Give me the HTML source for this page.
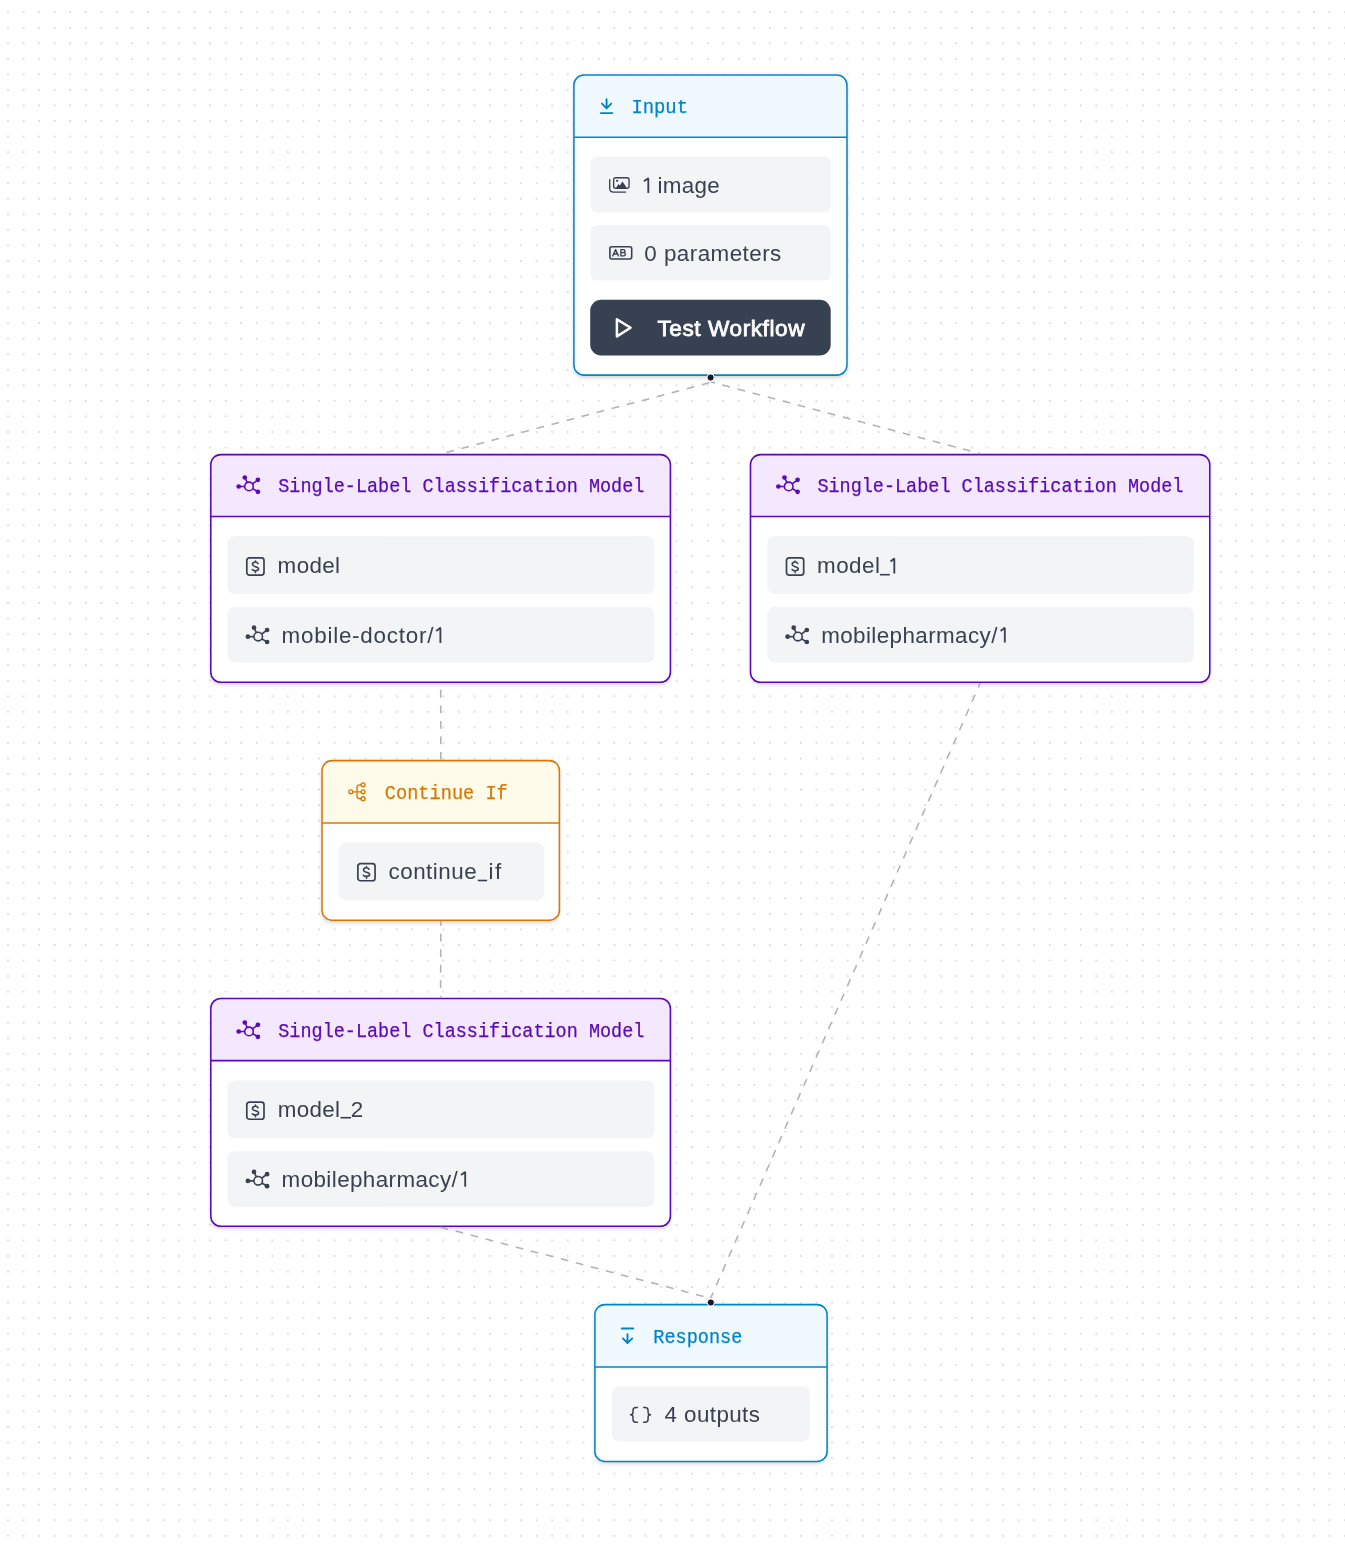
<!DOCTYPE html><html><head><meta charset="utf-8"><style>html,body{margin:0;padding:0;background:#fff;overflow:hidden;width:1345px;height:1545px;position:relative}svg{display:block;position:absolute;left:0;top:0;will-change:transform}.sh{position:absolute;background:#fff;border-radius:10px;box-shadow:0 3px 5px -1px rgba(0,0,0,.10), 0 1.5px 4px -1px rgba(0,0,0,.10), 0 0 3px rgba(0,0,0,.04)}</style></head><body>
<svg width="1345" height="1545" viewBox="0 0 1345 1545">
<defs><pattern id="dots" patternUnits="userSpaceOnUse" x="0.256" y="4.426" width="15.547" height="15.547"><circle cx="7.774" cy="7.774" r="0.95" fill="#d4d4d8"/></pattern></defs>
<rect width="1345" height="1545" fill="#fff"/><rect width="1345" height="1545" fill="url(#dots)"/></svg>
<div class="sh" style="left:573.12px;top:74.22px;width:274.65px;height:301.65px"></div>
<div class="sh" style="left:210.03px;top:453.83px;width:461.15px;height:229.25px"></div>
<div class="sh" style="left:749.73px;top:453.83px;width:460.85px;height:229.25px"></div>
<div class="sh" style="left:321.23px;top:759.83px;width:238.95px;height:161.15px"></div>
<div class="sh" style="left:210.03px;top:997.62px;width:461.15px;height:229.45px"></div>
<div class="sh" style="left:594.12px;top:1303.82px;width:233.75px;height:158.45px"></div>
<svg width="1345" height="1545" viewBox="0 0 1345 1545">
<rect x="573.9" y="75.0" width="273.10" height="300.10" rx="10" fill="#fff"/>
<path d="M573.9,137.3 V85.0 A10,10 0 0 1 583.9,75.0 H837.0 A10,10 0 0 1 847.0,85.0 V137.3 Z" fill="#f0f9ff"/>
<line x1="573.9" y1="137.3" x2="847.0" y2="137.3" stroke="#0284c7" stroke-width="1.55"/>
<rect x="573.9" y="75.0" width="273.10" height="300.10" rx="10" fill="none" stroke="#0284c7" stroke-width="1.55"/>
<rect x="210.8" y="454.6" width="459.60" height="227.70" rx="10" fill="#fff"/>
<path d="M210.8,516.4 V464.6 A10,10 0 0 1 220.8,454.6 H660.4 A10,10 0 0 1 670.4,464.6 V516.4 Z" fill="#f3e8ff"/>
<line x1="210.8" y1="516.4" x2="670.4" y2="516.4" stroke="#5a08b8" stroke-width="1.55"/>
<rect x="210.8" y="454.6" width="459.60" height="227.70" rx="10" fill="none" stroke="#5a08b8" stroke-width="1.55"/>
<rect x="750.5" y="454.6" width="459.30" height="227.70" rx="10" fill="#fff"/>
<path d="M750.5,516.4 V464.6 A10,10 0 0 1 760.5,454.6 H1199.8 A10,10 0 0 1 1209.8,464.6 V516.4 Z" fill="#f3e8ff"/>
<line x1="750.5" y1="516.4" x2="1209.8" y2="516.4" stroke="#5a08b8" stroke-width="1.55"/>
<rect x="750.5" y="454.6" width="459.30" height="227.70" rx="10" fill="none" stroke="#5a08b8" stroke-width="1.55"/>
<rect x="322.0" y="760.6" width="237.40" height="159.60" rx="10" fill="#fff"/>
<path d="M322.0,823.0 V770.6 A10,10 0 0 1 332.0,760.6 H549.4 A10,10 0 0 1 559.4,770.6 V823.0 Z" fill="#fffbeb"/>
<line x1="322.0" y1="823.0" x2="559.4" y2="823.0" stroke="#d97706" stroke-width="1.55"/>
<rect x="322.0" y="760.6" width="237.40" height="159.60" rx="10" fill="none" stroke="#d97706" stroke-width="1.55"/>
<rect x="210.8" y="998.4" width="459.60" height="227.90" rx="10" fill="#fff"/>
<path d="M210.8,1060.6 V1008.4 A10,10 0 0 1 220.8,998.4 H660.4 A10,10 0 0 1 670.4,1008.4 V1060.6 Z" fill="#f3e8ff"/>
<line x1="210.8" y1="1060.6" x2="670.4" y2="1060.6" stroke="#5a08b8" stroke-width="1.55"/>
<rect x="210.8" y="998.4" width="459.60" height="227.90" rx="10" fill="none" stroke="#5a08b8" stroke-width="1.55"/>
<rect x="594.9" y="1304.6" width="232.20" height="156.90" rx="10" fill="#fff"/>
<path d="M594.9,1367.0 V1314.6 A10,10 0 0 1 604.9,1304.6 H817.1 A10,10 0 0 1 827.1,1314.6 V1367.0 Z" fill="#f0f9ff"/>
<line x1="594.9" y1="1367.0" x2="827.1" y2="1367.0" stroke="#0284c7" stroke-width="1.55"/>
<rect x="594.9" y="1304.6" width="232.20" height="156.90" rx="10" fill="none" stroke="#0284c7" stroke-width="1.55"/>
<rect x="590.4" y="156.5" width="240.60" height="55.90" rx="7" fill="#f3f4f6"/>
<rect x="590.4" y="225.1" width="240.60" height="55.40" rx="7" fill="#f3f4f6"/>
<rect x="590.2" y="299.7" width="240.50" height="55.70" rx="11" fill="#374151"/>
<rect x="227.6" y="536.2" width="426.60" height="57.90" rx="7" fill="#f3f4f6"/>
<rect x="227.6" y="607.1" width="426.60" height="55.50" rx="7" fill="#f3f4f6"/>
<rect x="767.3000000000001" y="536.2" width="426.60" height="57.90" rx="7" fill="#f3f4f6"/>
<rect x="767.3000000000001" y="607.1" width="426.60" height="55.50" rx="7" fill="#f3f4f6"/>
<rect x="227.6" y="1080.4" width="426.60" height="57.90" rx="7" fill="#f3f4f6"/>
<rect x="227.6" y="1151.3000000000002" width="426.60" height="55.50" rx="7" fill="#f3f4f6"/>
<rect x="339.0" y="842.4" width="204.90" height="58.00" rx="7" fill="#f3f4f6"/>
<rect x="611.9" y="1386.4" width="198.10" height="55.10" rx="7" fill="#f3f4f6"/>
<g stroke="#b1b1b7" stroke-width="1.55" stroke-dasharray="7.77 7.77" fill="none">
<line x1="710.45" y1="382.4" x2="440.4" y2="454.0" stroke-dashoffset="-1.2"/>
<line x1="710.45" y1="381.8" x2="980.15" y2="453.5" stroke-dashoffset="3.0"/>
<line x1="440.8" y1="759.8" x2="440.7" y2="683.2"/>
<line x1="440.8" y1="920.9" x2="440.6" y2="997.6" stroke-dashoffset="2.8"/>
<line x1="440.4" y1="1227.1" x2="710.6" y2="1298.3" stroke-dashoffset="-0.2"/>
<line x1="980.15" y1="683.1" x2="710.6" y2="1298.3" stroke-dashoffset="2.95"/>
</g>
<circle cx="710.6" cy="377.5" r="3.6" fill="#1a192b" stroke="#fff" stroke-width="1"/>
<circle cx="710.8" cy="1302.5" r="3.6" fill="#1a192b" stroke="#fff" stroke-width="1"/>
<text x="631.41" y="112.8" font-family="Liberation Mono" font-size="20" fill="#0284c7" stroke="#0284c7" stroke-width="0.25" textLength="56.58" lengthAdjust="spacingAndGlyphs">Input</text>
<text x="644.35" y="260.9" font-family="Liberation Sans" font-size="22.4" font-weight="normal" fill="#374151" textLength="136.97" lengthAdjust="spacing">0 parameters</text>
<text x="657.5" y="335.6" font-family="Liberation Sans" font-size="22.6" font-weight="normal" fill="#fff" textLength="147.0" lengthAdjust="spacing" stroke="#fff" stroke-width="0.8">Test Workflow</text>
<text x="278.28" y="491.7" font-family="Liberation Mono" font-size="20" fill="#5a08b8" stroke="#5a08b8" stroke-width="0.25" textLength="366.10" lengthAdjust="spacingAndGlyphs">Single-Label Classification Model</text>
<text x="817.38" y="491.7" font-family="Liberation Mono" font-size="20" fill="#5a08b8" stroke="#5a08b8" stroke-width="0.25" textLength="366.10" lengthAdjust="spacingAndGlyphs">Single-Label Classification Model</text>
<text x="278.28" y="1036.7" font-family="Liberation Mono" font-size="20" fill="#5a08b8" stroke="#5a08b8" stroke-width="0.25" textLength="366.10" lengthAdjust="spacingAndGlyphs">Single-Label Classification Model</text>
<text x="277.6" y="573.2" font-family="Liberation Sans" font-size="22.4" font-weight="normal" fill="#374151" textLength="62.48" lengthAdjust="spacing">model</text>
<text x="657.5" y="193.0" font-family="Liberation Sans" font-size="22.4" font-weight="normal" fill="#374151" textLength="62.18" lengthAdjust="spacing">image</text>
<text x="281.6" y="642.9" font-family="Liberation Sans" font-size="22.4" font-weight="normal" fill="#374151" textLength="151.77" lengthAdjust="spacing">mobile-doctor/</text>
<text x="821.2" y="642.6" font-family="Liberation Sans" font-size="22.4" font-weight="normal" fill="#374151" textLength="176.19" lengthAdjust="spacing">mobilepharmacy/</text>
<text x="281.6" y="1186.8" font-family="Liberation Sans" font-size="22.4" font-weight="normal" fill="#374151" textLength="176.19" lengthAdjust="spacing">mobilepharmacy/</text>
<text x="817.0" y="573.4" font-family="Liberation Sans" font-size="22.4" font-weight="normal" fill="#374151" textLength="62.88" lengthAdjust="spacing">model</text>
<text x="277.8" y="1117.0" font-family="Liberation Sans" font-size="22.4" font-weight="normal" fill="#374151" textLength="62.28" lengthAdjust="spacing">model</text>
<text x="350.8" y="1117.0" font-family="Liberation Sans" font-size="22.4" font-weight="normal" fill="#374151" textLength="11.85" lengthAdjust="spacing">2</text>
<text x="388.5" y="878.9" font-family="Liberation Sans" font-size="22.4" font-weight="normal" fill="#374151" textLength="88.15" lengthAdjust="spacing">continue</text>
<text x="488.4" y="878.9" font-family="Liberation Sans" font-size="22.4" font-weight="normal" fill="#374151" textLength="12.8" lengthAdjust="spacing">if</text>
<text x="384.87" y="799.1" font-family="Liberation Mono" font-size="20" fill="#d97706" stroke="#d97706" stroke-width="0.25" textLength="122.88" lengthAdjust="spacingAndGlyphs">Continue If</text>
<text x="653.27" y="1343.3" font-family="Liberation Mono" font-size="20" fill="#0284c7" stroke="#0284c7" stroke-width="0.25" textLength="89.07" lengthAdjust="spacingAndGlyphs">Response</text>
<text x="664.6" y="1421.6" font-family="Liberation Sans" font-size="22.4" font-weight="normal" fill="#374151" textLength="95.32" lengthAdjust="spacing">4 outputs</text>
<g fill="none" stroke="#374151" stroke-width="1.85" stroke-linecap="butt" stroke-linejoin="miter">
<path d="M648.30,193.0 V178.20 M648.70,177.90 L643.90,181.20"/>
<path d="M440.40,642.9 V627.90 M440.80,627.60 L436.20,630.90"/>
<path d="M1004.80,642.6 V627.90 M1005.20,627.60 L1000.60,630.90"/>
<path d="M465.20,1186.8 V1172.10 M465.60,1171.80 L461.00,1175.10"/>
<path d="M894.30,573.4 V558.50 M894.70,558.20 L890.50,561.50"/>
</g>
<rect x="879.9" y="573.90" width="9.90" height="1.6" fill="#374151"/>
<rect x="340.6" y="1116.90" width="10.40" height="1.6" fill="#374151"/>
<rect x="477.8" y="879.70" width="9.30" height="1.6" fill="#374151"/>
<g fill="none" stroke="#0284c7" stroke-width="1.9" stroke-linecap="round" stroke-linejoin="round">
<path d="M606.57,99.2 V107.9 M601.9,103.6 L606.57,108.3 L611.2,103.6 M600.8,113.1 H612.4"/>
<path d="M621.8,1328.5 H633.3 M627.5,1334.1 V1342.6 M622.9,1338.4 L627.5,1343.0 L632.3,1338.4"/>
</g>
<g fill="none" stroke="#374151" stroke-width="1.35" stroke-linecap="round" stroke-linejoin="round">
<rect x="613.65" y="177.75" width="15.4" height="10.6" rx="2"/>
<path d="M609.7,179.6 V188.2 Q609.7,192.1 613.6,192.1 H625.6"/>
</g>
<circle cx="617.1" cy="180.8" r="1.1" fill="#374151"/>
<path d="M615.6,188.5 L618.5,184.0 L619.8,185.6 L622.5,181.6 L627.2,188.5 Z" fill="#374151"/>
<rect x="609.9" y="246.7" width="21.8" height="12.3" rx="2" fill="none" stroke="#374151" stroke-width="1.6"/>
<g fill="none" stroke="#374151" stroke-width="1.35" stroke-linecap="round" stroke-linejoin="round">
<path d="M612.7,256.0 L615.6,249.6 L618.5,256.0 M613.8,254.0 H617.4"/>
<path d="M620.9,249.6 V255.9 H623.6 Q625.4,255.9 625.4,254.2 Q625.4,252.6 623.6,252.6 H620.9 M620.9,249.6 H623.3 Q625.0,249.6 625.0,251.1 Q625.0,252.6 623.3,252.6"/>
</g>
<path d="M616.9,319.35 L630.6,327.7 L616.9,336.4 Z" fill="none" stroke="#fff" stroke-width="2.5" stroke-linejoin="round"/>
<g stroke="#5a08b8" fill="#5a08b8" stroke-width="1.6">
<line x1="247.16" y1="482.51" x2="244.80" y2="477.50"/>
<circle cx="244.80" cy="477.50" r="2.35" stroke="none"/>
<line x1="252.45" y1="483.84" x2="257.90" y2="479.80"/>
<circle cx="257.90" cy="479.80" r="2.35" stroke="none"/>
<line x1="252.68" y1="488.63" x2="257.90" y2="491.80"/>
<circle cx="257.90" cy="491.80" r="2.35" stroke="none"/>
<line x1="244.70" y1="486.44" x2="238.70" y2="486.50"/>
<circle cx="238.70" cy="486.50" r="2.35" stroke="none"/>
<circle cx="249.0" cy="486.4" r="4.3" fill="none"/>
</g>
<g stroke="#374151" fill="#374151" stroke-width="1.6">
<line x1="256.36" y1="632.71" x2="254.00" y2="627.70"/>
<circle cx="254.00" cy="627.70" r="2.35" stroke="none"/>
<line x1="261.65" y1="634.04" x2="267.10" y2="630.00"/>
<circle cx="267.10" cy="630.00" r="2.35" stroke="none"/>
<line x1="261.88" y1="638.83" x2="267.10" y2="642.00"/>
<circle cx="267.10" cy="642.00" r="2.35" stroke="none"/>
<line x1="253.90" y1="636.64" x2="247.90" y2="636.70"/>
<circle cx="247.90" cy="636.70" r="2.35" stroke="none"/>
<circle cx="258.2" cy="636.6" r="4.3" fill="none"/>
</g>
<g transform="translate(245.95,557.0)" fill="none" stroke="#374151" stroke-width="1.7" stroke-linecap="round" stroke-linejoin="round">
<rect x="0.85" y="0.85" width="17.2" height="17.2" rx="2.6"/>
<path stroke-width="1.55" d="M12.05,6.55 C11.4,5.4 10.5,5.06 9.52,5.06 C7.8,5.06 6.55,5.9 6.55,7.35 C6.55,8.9 8,9.3 9.52,9.67 C11.2,10.1 12.65,10.6 12.65,11.75 C12.65,13 11.2,13.69 9.52,13.69 C8.2,13.69 7,13.3 6.4,12.5 M9.52,3.95 V5.06 M9.52,13.69 V15.6"/>
</g>
<g stroke="#5a08b8" fill="#5a08b8" stroke-width="1.6">
<line x1="786.86" y1="482.51" x2="784.50" y2="477.50"/>
<circle cx="784.50" cy="477.50" r="2.35" stroke="none"/>
<line x1="792.15" y1="483.84" x2="797.60" y2="479.80"/>
<circle cx="797.60" cy="479.80" r="2.35" stroke="none"/>
<line x1="792.38" y1="488.63" x2="797.60" y2="491.80"/>
<circle cx="797.60" cy="491.80" r="2.35" stroke="none"/>
<line x1="784.40" y1="486.44" x2="778.40" y2="486.50"/>
<circle cx="778.40" cy="486.50" r="2.35" stroke="none"/>
<circle cx="788.7" cy="486.4" r="4.3" fill="none"/>
</g>
<g stroke="#374151" fill="#374151" stroke-width="1.6">
<line x1="796.06" y1="632.71" x2="793.70" y2="627.70"/>
<circle cx="793.70" cy="627.70" r="2.35" stroke="none"/>
<line x1="801.35" y1="634.04" x2="806.80" y2="630.00"/>
<circle cx="806.80" cy="630.00" r="2.35" stroke="none"/>
<line x1="801.58" y1="638.83" x2="806.80" y2="642.00"/>
<circle cx="806.80" cy="642.00" r="2.35" stroke="none"/>
<line x1="793.60" y1="636.64" x2="787.60" y2="636.70"/>
<circle cx="787.60" cy="636.70" r="2.35" stroke="none"/>
<circle cx="797.9000000000001" cy="636.6" r="4.3" fill="none"/>
</g>
<g transform="translate(785.6500000000001,557.0)" fill="none" stroke="#374151" stroke-width="1.7" stroke-linecap="round" stroke-linejoin="round">
<rect x="0.85" y="0.85" width="17.2" height="17.2" rx="2.6"/>
<path stroke-width="1.55" d="M12.05,6.55 C11.4,5.4 10.5,5.06 9.52,5.06 C7.8,5.06 6.55,5.9 6.55,7.35 C6.55,8.9 8,9.3 9.52,9.67 C11.2,10.1 12.65,10.6 12.65,11.75 C12.65,13 11.2,13.69 9.52,13.69 C8.2,13.69 7,13.3 6.4,12.5 M9.52,3.95 V5.06 M9.52,13.69 V15.6"/>
</g>
<g stroke="#5a08b8" fill="#5a08b8" stroke-width="1.6">
<line x1="247.16" y1="1027.51" x2="244.80" y2="1022.50"/>
<circle cx="244.80" cy="1022.50" r="2.35" stroke="none"/>
<line x1="252.45" y1="1028.84" x2="257.90" y2="1024.80"/>
<circle cx="257.90" cy="1024.80" r="2.35" stroke="none"/>
<line x1="252.68" y1="1033.63" x2="257.90" y2="1036.80"/>
<circle cx="257.90" cy="1036.80" r="2.35" stroke="none"/>
<line x1="244.70" y1="1031.44" x2="238.70" y2="1031.50"/>
<circle cx="238.70" cy="1031.50" r="2.35" stroke="none"/>
<circle cx="249.0" cy="1031.3999999999999" r="4.3" fill="none"/>
</g>
<g stroke="#374151" fill="#374151" stroke-width="1.6">
<line x1="256.36" y1="1176.91" x2="254.00" y2="1171.90"/>
<circle cx="254.00" cy="1171.90" r="2.35" stroke="none"/>
<line x1="261.65" y1="1178.24" x2="267.10" y2="1174.20"/>
<circle cx="267.10" cy="1174.20" r="2.35" stroke="none"/>
<line x1="261.88" y1="1183.03" x2="267.10" y2="1186.20"/>
<circle cx="267.10" cy="1186.20" r="2.35" stroke="none"/>
<line x1="253.90" y1="1180.84" x2="247.90" y2="1180.90"/>
<circle cx="247.90" cy="1180.90" r="2.35" stroke="none"/>
<circle cx="258.2" cy="1180.8000000000002" r="4.3" fill="none"/>
</g>
<g transform="translate(245.95,1101.2)" fill="none" stroke="#374151" stroke-width="1.7" stroke-linecap="round" stroke-linejoin="round">
<rect x="0.85" y="0.85" width="17.2" height="17.2" rx="2.6"/>
<path stroke-width="1.55" d="M12.05,6.55 C11.4,5.4 10.5,5.06 9.52,5.06 C7.8,5.06 6.55,5.9 6.55,7.35 C6.55,8.9 8,9.3 9.52,9.67 C11.2,10.1 12.65,10.6 12.65,11.75 C12.65,13 11.2,13.69 9.52,13.69 C8.2,13.69 7,13.3 6.4,12.5 M9.52,3.95 V5.06 M9.52,13.69 V15.6"/>
</g>
<g transform="translate(357.0,862.7)" fill="none" stroke="#374151" stroke-width="1.7" stroke-linecap="round" stroke-linejoin="round">
<rect x="0.85" y="0.85" width="17.2" height="17.2" rx="2.6"/>
<path stroke-width="1.55" d="M12.05,6.55 C11.4,5.4 10.5,5.06 9.52,5.06 C7.8,5.06 6.55,5.9 6.55,7.35 C6.55,8.9 8,9.3 9.52,9.67 C11.2,10.1 12.65,10.6 12.65,11.75 C12.65,13 11.2,13.69 9.52,13.69 C8.2,13.69 7,13.3 6.4,12.5 M9.52,3.95 V5.06 M9.52,13.69 V15.6"/>
</g>
<g fill="none" stroke="#d97706" stroke-width="1.4" stroke-linecap="round">
<circle cx="350.87" cy="791.84" r="1.95"/>
<circle cx="363.05" cy="784.87" r="1.95"/>
<circle cx="363.05" cy="791.84" r="1.95"/>
<circle cx="363.05" cy="798.7" r="1.95"/>
<path d="M352.8,791.84 H361.1 M361.1,784.87 H359.6 Q357,784.87 357,787.5 V796.1 Q357,798.7 359.6,798.7 H361.1"/>
</g>
<g fill="none" stroke="#374151" stroke-width="1.45" stroke-linecap="round" stroke-linejoin="round">
<path d="M637.4,1407.5 H636.0 Q633.0,1407.5 633.0,1410.5 V1412.3 Q633.0,1414.75 630.5,1414.75 Q633.0,1414.75 633.0,1417.2 V1419.25 Q633.0,1422.25 636.0,1422.25 H637.4"/>
<path d="M637.4,1407.5 H636.0 Q633.0,1407.5 633.0,1410.5 V1412.3 Q633.0,1414.75 630.5,1414.75 Q633.0,1414.75 633.0,1417.2 V1419.25 Q633.0,1422.25 636.0,1422.25 H637.4" transform="translate(1281.07,0) scale(-1,1)"/>
</g>
</svg></body></html>
